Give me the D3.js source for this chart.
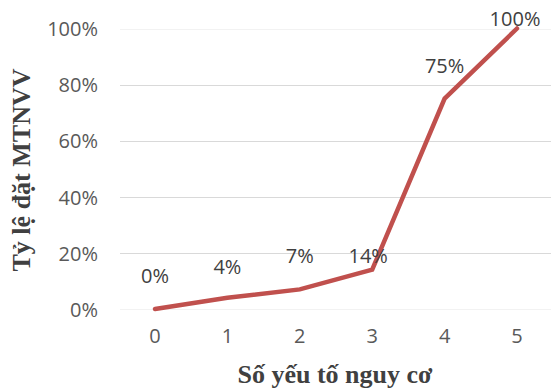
<!DOCTYPE html>
<html><head><meta charset="utf-8">
<script src="https://cdn.jsdelivr.net/npm/d3@7"></script>
<style>body{margin:0;background:#fff}svg{display:block}</style>
</head><body>
<script>
const categories = ["0","1","2","3","4","5"];
const values = [0, 0.04, 0.07, 0.14, 0.75, 1.00];
const valueLabels = ["0%","4%","7%","14%","75%","100%"];
const yTicks = [0, 0.2, 0.4, 0.6, 0.8, 1.0];
const xTitle = "Số yếu tố nguy cơ";
const yTitle = "Tỷ lệ đặt MTNVV";

const W = 551, H = 389;
const svg = d3.select("body").append("svg").attr("width", W).attr("height", H);
const x = d3.scaleBand().domain(categories).range([118.8, 553.2]).padding(0);
const y = d3.scaleLinear().domain([0, 1]).range([309, 28.5]);
const cx = d => x(d) + x.bandwidth() / 2;

// gridlines
svg.append("g").selectAll("line").data(yTicks).join("line")
  .attr("x1", 120).attr("x2", W)
  .attr("y1", d => Math.round(y(d)) + 0.5).attr("y2", d => Math.round(y(d)) + 0.5)
  .attr("stroke", d => (d === 0 || d === 1) ? "#f2f2f2" : "#d9d9d9").attr("stroke-width", 1);

// y axis
const yAxis = d3.axisLeft(y).tickValues(yTicks).tickFormat(d3.format(".0%")).tickSize(0).tickPadding(0);
const gy = svg.append("g").attr("transform", "translate(98,0)").call(yAxis);
gy.select(".domain").remove();
gy.selectAll("text").attr("font-family", "Open Sans").attr("font-size", 20).attr("fill", "#595959").attr("dy", "0.36em");

// x axis
const xAxis = d3.axisBottom(x).tickSize(0).tickPadding(0);
const gx = svg.append("g").attr("transform", "translate(0,329)").call(xAxis);
gx.select(".domain").remove();
gx.selectAll("text").attr("font-family", "Open Sans").attr("font-size", 20).attr("fill", "#595959").attr("dy", "0.71em");

// line
const line = d3.line().x((d, i) => cx(categories[i])).y(d => y(d));
svg.append("path").datum(values).attr("d", line)
  .attr("fill", "none").attr("stroke", "#c0504d").attr("stroke-width", 4.5)
  .attr("stroke-linejoin", "miter").attr("stroke-linecap", "round");

// data labels
const labelDy = [-26, -24, -26, -7, -26, -2.5];
const labelDx = [0, 0, 0, -4, 0, -2];
svg.append("g").selectAll("text").data(values).join("text")
  .attr("x", (d, i) => cx(categories[i]) + labelDx[i])
  .attr("y", (d, i) => y(d) + labelDy[i])
  .attr("text-anchor", "middle")
  .attr("font-family", "Open Sans").attr("font-size", 20).attr("fill", "#404040")
  .text((d, i) => valueLabels[i]);

// titles
svg.append("text").attr("x", 335).attr("y", 383).attr("text-anchor", "middle")
  .attr("font-family", "Liberation Serif").attr("font-weight", "bold").attr("font-size", 26)
  .attr("fill", "#404040").text(xTitle);
svg.append("text").attr("transform", "translate(30,170) rotate(-90)").attr("text-anchor", "middle")
  .attr("font-family", "Liberation Serif").attr("font-weight", "bold").attr("font-size", 26)
  .attr("fill", "#404040").text(yTitle);
</script>
</body></html>
